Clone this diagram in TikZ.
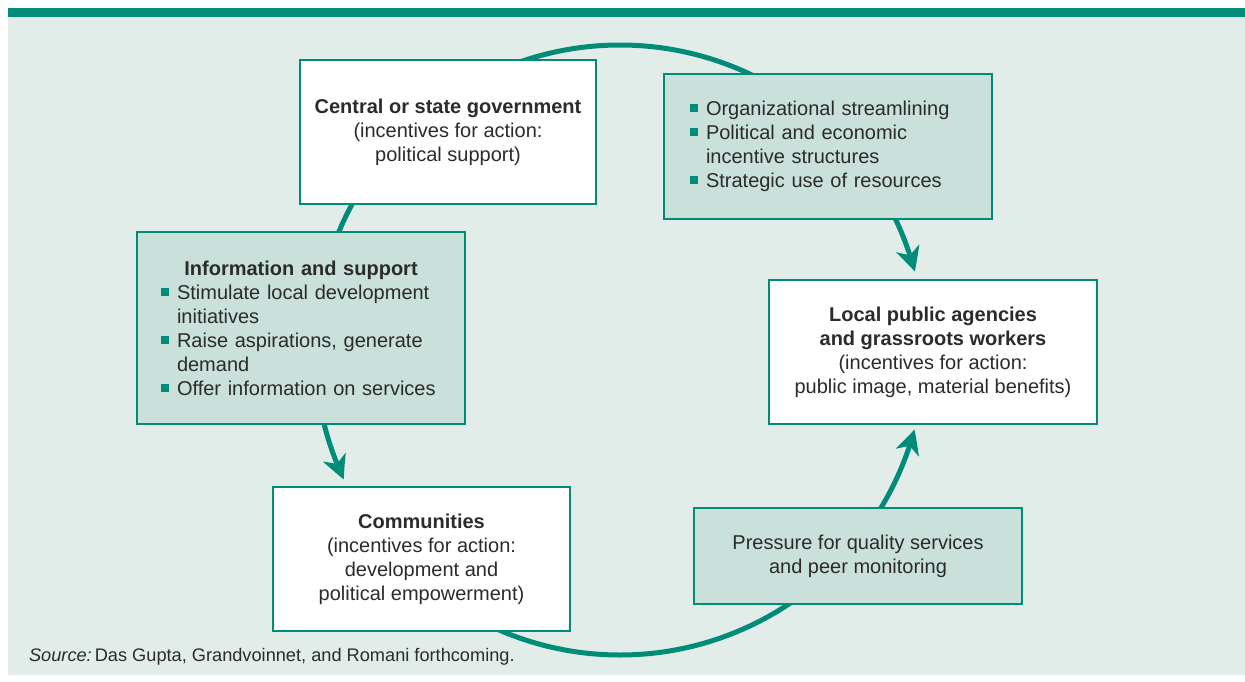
\documentclass[tikz,border=0pt]{standalone}
\usepackage{fontspec}
\setmainfont{Liberation Sans}
\usetikzlibrary{arrows.meta,bending}
\definecolor{loopteal}{HTML}{008C78}
\definecolor{panelgray}{HTML}{E2EDE9}
\definecolor{boxtint}{HTML}{C9E0DB}
\definecolor{inkgray}{HTML}{2B2B2B}
\newcommand{\Sq}{\makebox[8pt][l]{\textcolor{loopteal}{\rule[1.6pt]{4.2pt}{4.2pt}}}}
\newcommand{\Ind}{\hspace*{8pt}}
\newcommand{\RingArc}[3]{%
  \draw[#3] ([shift={(#1:152.5pt)}]hub) arc[start angle=#1, end angle=#2, radius=152.5pt];
}

\begin{document}
\begin{tikzpicture}[x=0.5pt,y=0.5pt,font=\fontsize{10}{12}\selectfont,
    ring/.style={draw=loopteal, line width=2.5pt},
    headed/.style={ring, -{Stealth[length=12pt,width=12pt,inset=3.5pt,bend]}},
    card/.style={draw=loopteal, line width=1pt, fill=white, text=inkgray, align=center, inner sep=0pt},
    tinted/.style={card, fill=boxtint, align=left}]
    \useasboundingbox (0,0) rectangle (1245,681);
    \fill[panelgray] (8,6) rectangle (1245,665);
    \fill[loopteal] (8,664.3) rectangle (1245,673);
    \coordinate (hub) at (620,331);
    \RingArc{120}{14.9}{headed}
    \RingArc{120}{205.1}{headed}
    \RingArc{240}{344.9}{headed}
    \node[card, minimum width=148pt, minimum height=72pt] (gov) at (448,549)
      {\textbf{Central or state government}\\(incentives for action:\\political support)};
    \node[tinted, text width=138pt, inner xsep=13pt, minimum height=72.5pt] (reform) at (828,534.5)
      {\Sq Organizational streamlining\\\Sq Political and economic\\\Ind incentive structures\\\Sq Strategic use of resources};
    \node[tinted, text width=140pt, inner xsep=12pt, minimum height=96pt] (info) at (301,353)
      {\makebox[\hsize]{\bfseries Information and support}\\\Sq Stimulate local development\\\Ind initiatives\\\Sq Raise aspirations, generate\\\Ind demand\\\Sq Offer information on services};
    \node[card, minimum width=164pt, minimum height=72pt] (agency) at (933,329)
      {\textbf{Local public agencies}\\\textbf{and grassroots workers}\\(incentives for action:\\public image, material benefits)};
    \node[card, minimum width=148.5pt, minimum height=72pt] (commun) at (421.5,122)
      {\textbf{Communities}\\(incentives for action:\\development and\\political empowerment)};
    \node[card, fill=boxtint, minimum width=164pt, minimum height=48pt] (pressure) at (858,125)
      {Pressure for quality services\\and peer monitoring};
    \node[anchor=base west, font=\fontsize{9.1}{11}\selectfont, text=inkgray] (source) at (22,20)
      {\textit{Source:}\,Das Gupta, Grandvoinnet, and Romani forthcoming.};
\end{tikzpicture}
\end{document}
